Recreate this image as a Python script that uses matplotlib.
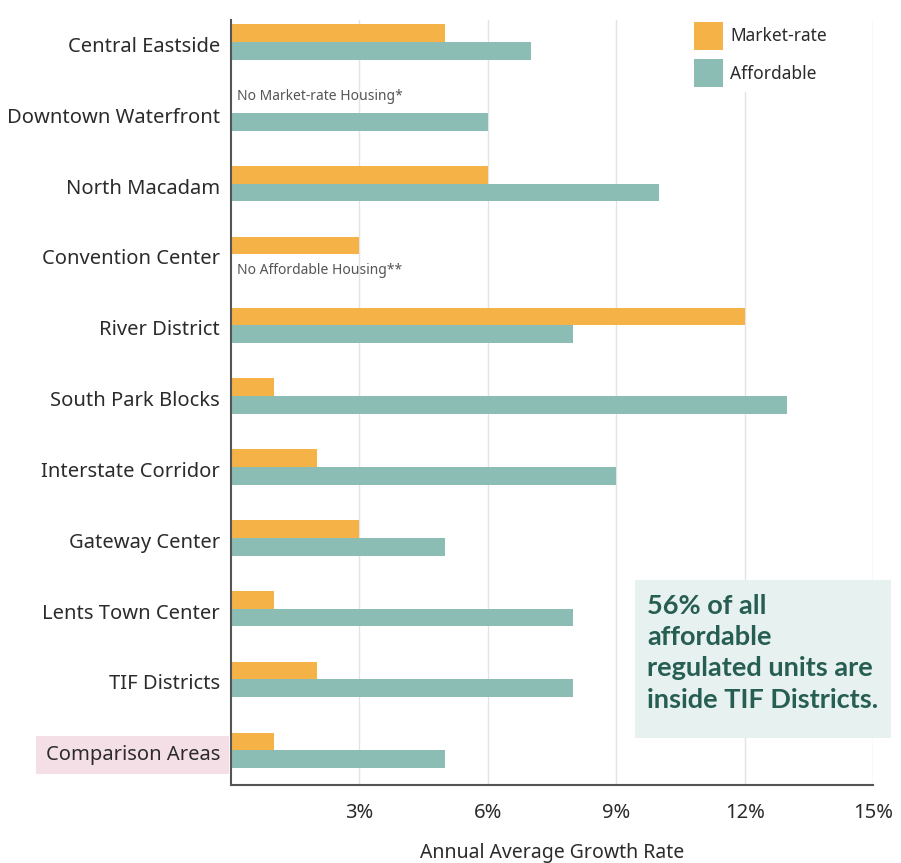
import numpy as np
import matplotlib
matplotlib.use("Agg")
import matplotlib.pyplot as plt
from matplotlib.patches import Rectangle
from matplotlib.transforms import ScaledTranslation

districts = ["Central Eastside", "Downtown Waterfront", "North Macadam", "Convention Center",
             "River District", "South Park Blocks", "Interstate Corridor", "Gateway Center",
             "Lents Town Center", "TIF Districts", "Comparison Areas"]
market_rate = [5, np.nan, 6, 3, 12, 1, 2, 3, 1, 2, 1]
affordable = [7, 6, 10, np.nan, 8, 13, 9, 5, 8, 8, 5]
xticks = [3, 6, 9, 12, 15]
xtick_labels = ["3%", "6%", "9%", "12%", "15%"]

ORANGE = "#F4B247"
TEAL = "#8CBDB4"
TEXT = "#2B2B2B"

plt.rcParams["font.family"] = ["Noto Sans", "DejaVu Sans"]

fig = plt.figure(figsize=(9.01, 8.63), dpi=100)
W, H = 901, 863
ax = fig.add_axes([231 / W, 1 - 785 / H, (873 - 231) / W, (785 - 20) / H])

y = np.arange(len(districts))
h = 0.25
ax.barh(y - h / 2, np.nan_to_num(market_rate), height=h, color=ORANGE, zorder=2, label="Market-rate")
ax.barh(y + h / 2, np.nan_to_num(affordable), height=h, color=TEAL, zorder=2, label="Affordable")

ax.set_xlim(0, 15)
ax.set_ylim(len(districts) - 0.51, -0.31)
ax.set_xticks(xticks)
ax.set_xticklabels(xtick_labels, fontsize=14.5, color=TEXT)
ax.set_yticks(y)
ax.set_yticklabels(districts, fontsize=14.5, color=TEXT, va="center")
ax.tick_params(length=0)
ax.tick_params(axis="y", pad=8)
ax.tick_params(axis="x", pad=13)
ax.grid(axis="x", color="#E3E3E3", linewidth=1, zorder=0)
for s in ["top", "right"]:
    ax.spines[s].set_visible(False)
for s in ["left", "bottom"]:
    ax.spines[s].set_color("#555555")
    ax.spines[s].set_linewidth(1.5)
    ax.spines[s].set_zorder(3)
ax.set_xlabel("Annual Average Growth Rate", fontsize=14, color=TEXT, labelpad=14)

# nudge the row labels slightly below the bar pair centre, as in the original
shift = ScaledTranslation(0, -5 / 100, fig.dpi_scale_trans)
for lab in ax.get_yticklabels():
    lab.set_transform(lab.get_transform() + shift)

# highlight the comparison row label
ylab = ax.get_yticklabels()[-1]
ylab.set_bbox(dict(facecolor="#F5DFE6", edgecolor="none", boxstyle="square,pad=0.45"))

# missing-data notes
ax.text(0.15, 1 - h * 0.9, "No Market-rate Housing*", fontsize=10, color="#555555", va="center")
ax.text(0.15, 3 + h * 0.9, "No Affordable Housing**", fontsize=10, color="#555555", va="center")

# legend
ax.legend(loc="upper left", bbox_to_anchor=((680 - 231) / 642, 1.016), frameon=True,
          facecolor="white", edgecolor="none", framealpha=1, fontsize=12.5,
          handlelength=1.65, handleheight=2.1, labelspacing=0.55, handletextpad=0.45,
          labelcolor=TEXT, borderpad=0.3)

# callout box
fig.patches.append(Rectangle((635 / W, 1 - 738 / H), (891 - 635) / W, (738 - 580) / H,
                             transform=fig.transFigure, facecolor="#E7F1EF",
                             edgecolor="none", zorder=5))
fig.text(647 / W, 1 - 594 / H,
         "56% of all\naffordable\nregulated units are\ninside TIF Districts.",
         fontsize=19.5, fontweight="bold", family=["Lato", "DejaVu Sans"],
         color="#275E53", va="top", ha="left", linespacing=1.36, zorder=6)

fig.savefig("out.png", dpi=100)
